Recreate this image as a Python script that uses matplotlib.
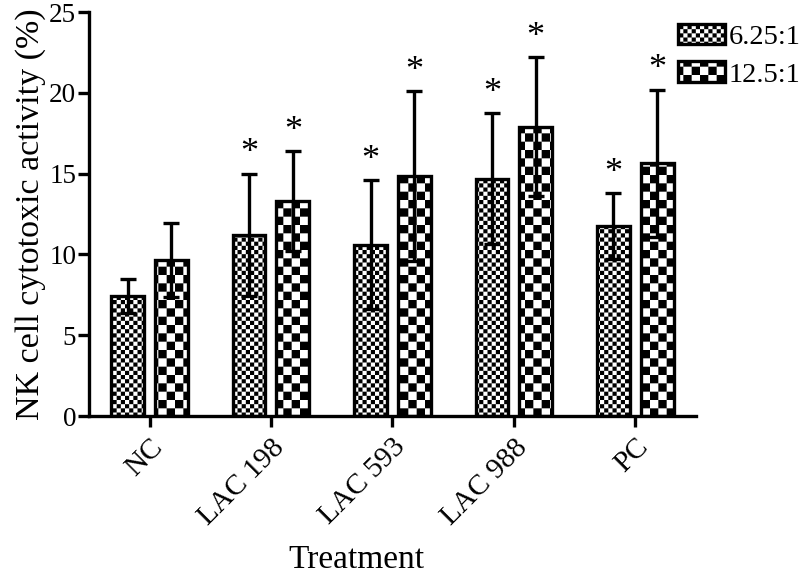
"""NK cell cytotoxic activity per treatment, two effector:target ratios."""

import warnings

import matplotlib
matplotlib.use("Agg")
import matplotlib.pyplot as plt
import matplotlib.transforms as mtrans
import numpy as np
from matplotlib import hatch as mhatch
from matplotlib.path import Path

warnings.filterwarnings("ignore")

categories = ["NC", "LAC 198", "LAC 593", "LAC 988", "PC"]
ratio_labels = ["6.25:1", "12.5:1"]
mean_625 = [7.45, 11.2, 10.6, 14.7, 11.75]
err_625 = [1.05, 3.8, 4.0, 4.05, 2.05]
mean_125 = [9.65, 13.3, 14.85, 17.9, 15.65]
err_125 = [2.3, 3.1, 5.25, 4.3, 4.55]
signif_625 = [False, True, True, True, True]
signif_125 = [False, True, True, True, True]


class CheckerHatch(mhatch.HatchPatternBase):
    """Filled checkerboard: 'c' = fine squares, 'C' = coarse squares."""
    filled = True
    size = 1.0

    def __init__(self, hatch, density):
        if "c" in hatch:
            self.n = 24
        elif "C" in hatch:
            self.n = 12
        else:
            self.n = 0
        self.num_vertices = (self.n * self.n // 2) * 5

    def set_vertices_and_codes(self, vertices, codes):
        n = self.n
        step = 1.0 / n
        k = 0
        for i in range(n):
            for j in range(n):
                if (i + j) % 2:
                    continue
                x0, y0 = i * step, j * step
                vertices[k:k + 5] = [(x0, y0), (x0 + step, y0),
                                     (x0 + step, y0 + step), (x0, y0 + step),
                                     (x0, y0)]
                codes[k:k + 5] = [Path.MOVETO, Path.LINETO, Path.LINETO,
                                  Path.LINETO, Path.CLOSEPOLY]
                k += 5


mhatch._hatch_types.append(CheckerHatch)

plt.rcParams["font.family"] = ["Liberation Serif", "DejaVu Serif"]
plt.rcParams["hatch.linewidth"] = 0.0
plt.rcParams["hatch.color"] = "black"

fig = plt.figure(figsize=(8, 5.77), dpi=100)
ax = fig.add_axes([0.111, 0.279, 0.759, 0.700])

x = np.arange(len(categories))
width = 0.27
offset = 0.18
lw = 2.4

series = [
    (mean_625, err_625, signif_625, "c", -offset, ratio_labels[0]),
    (mean_125, err_125, signif_125, "C", offset, ratio_labels[1]),
]
for means, errs, sig, pattern, off, label in series:
    ax.bar(x + off, means, width, facecolor="white", edgecolor="black",
           linewidth=lw, hatch=pattern, label=label, zorder=2)
    ax.errorbar(x + off, means, yerr=errs, fmt="none", ecolor="black",
                elinewidth=lw, capsize=6, capthick=lw, zorder=3)
    for xi, m, e, s in zip(x + off, means, errs, sig):
        if s:
            ax.text(xi, m + e + 0.2, "*", ha="center", va="bottom",
                    fontsize=26)

ax.set_xlim(-0.5, 4.5)
ax.set_ylim(0, 25)
ax.set_yticks([0, 5, 10, 15, 20, 25])
ax.set_xticks(x)
ax.set_xticklabels(categories, rotation=45, ha="right",
                   rotation_mode="anchor", fontsize=21)
shift = mtrans.ScaledTranslation(7 / 72, 0, fig.dpi_scale_trans)
for lab in ax.get_xticklabels():
    lab.set_transform(lab.get_transform() + shift)
ax.tick_params(axis="y", labelsize=19.5, length=8, width=lw, pad=1)
ax.tick_params(axis="x", length=8, width=lw, pad=5)
for side in ("top", "right"):
    ax.spines[side].set_visible(False)
for side in ("left", "bottom"):
    ax.spines[side].set_linewidth(lw)

ax.set_ylabel("NK cell cytotoxic activity (%)", fontsize=24.5, labelpad=2)
ax.set_xlabel("Treatment", fontsize=24)
ax.xaxis.set_label_coords(0.44, -0.318)

ax.legend(loc="upper left", bbox_to_anchor=(678 / 800, 1 - 24 / 577),
          bbox_transform=fig.transFigure, frameon=False, fontsize=20.5,
          handlelength=1.65, handleheight=0.72, handletextpad=0.12,
          labelspacing=0.4, borderpad=0, borderaxespad=0)

fig.savefig("out.png", dpi=100)
